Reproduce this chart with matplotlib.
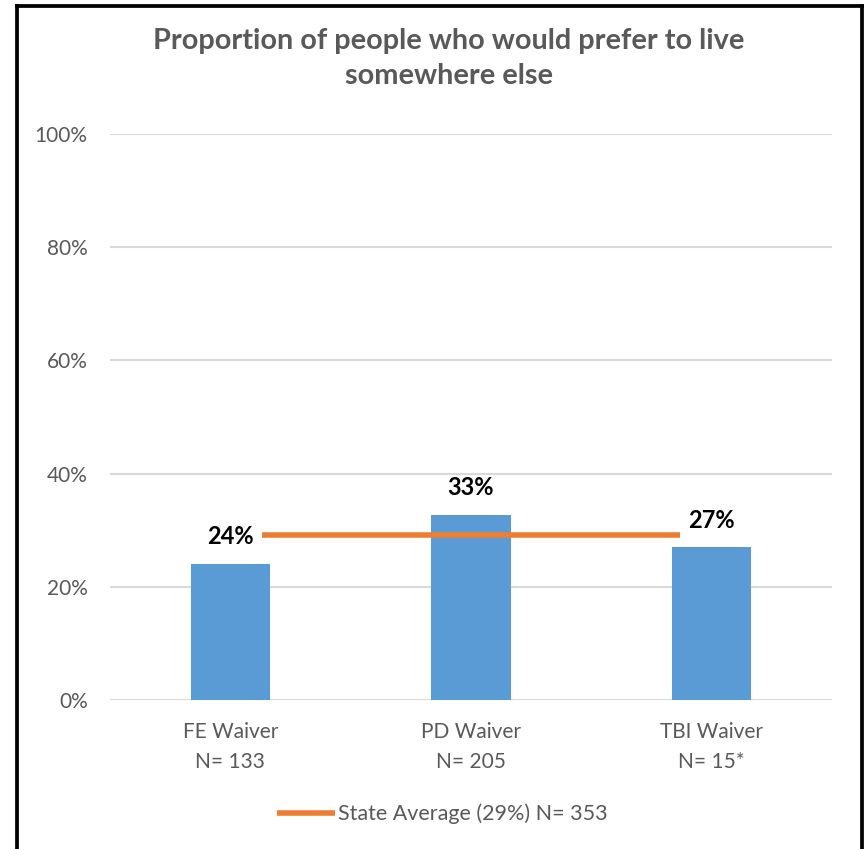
import matplotlib.pyplot as plt
from matplotlib.lines import Line2D

categories = ["FE Waiver\nN= 133", "PD Waiver\nN= 205", "TBI Waiver\nN= 15*"]
values = [24, 33, 27]
bar_heights = [24.1, 32.7, 27.0]
state_average = 29.2
state_label = "State Average (29%) N= 353"
yticks = [0, 20, 40, 60, 80, 100]

plt.rcParams['font.family'] = ['Lato', 'DejaVu Sans']

fig = plt.figure(figsize=(8.65, 8.49), dpi=100)
ax = fig.add_axes([0.127, 0.1755, 0.835, 0.6667])

x = list(range(len(categories)))
ax.bar(x, bar_heights, width=0.33, color='#5b9bd5', zorder=2)

for xi, h, v in zip(x, bar_heights, values):
    ax.text(xi, h + 4.8, f"{v}%", ha='center', va='center', fontsize=17,
            fontweight='bold', color='black', zorder=4,
            bbox=dict(facecolor='white', edgecolor='none', pad=1))

line, = ax.plot([0.13, 1.87], [state_average, state_average], color='#ed7d31',
                linewidth=4, solid_capstyle='butt', zorder=3)

ax.set_xlim(-0.5, 2.5)
ax.set_ylim(0, 100)
ax.set_yticks(yticks)
ax.set_yticklabels([f"{t}%" for t in yticks])
ax.set_xticks(x)
ax.set_xticklabels(categories, linespacing=1.6)
ax.tick_params(axis='both', length=0, colors='#595959', labelsize=15)
ax.tick_params(axis='y', pad=16)
ax.tick_params(axis='x', pad=16)
for s in ax.spines.values():
    s.set_visible(False)
ax.grid(axis='y', color='#d9d9d9', linewidth=1.5, zorder=0)
ax.axhline(0, color='#d0d0d0', linewidth=1.8, zorder=1)

fig.text(0.519, 0.931, "Proportion of people who would prefer to live\nsomewhere else",
         ha='center', va='center', fontsize=20.8, fontweight='bold', color='#595959',
         linespacing=1.42)

fig.legend([line], [state_label], loc='center', bbox_to_anchor=(0.511, 0.041),
           frameon=False, fontsize=15.5, labelcolor='#595959', handlelength=2.7,
           handletextpad=0.14)

# black frame around the chart
fx0, fx1 = 16.5 / 865, 862 / 865
fy1 = 1 - 5.5 / 849
for xs, ys in [([fx0, fx0], [-0.01, fy1]), ([fx0, fx1], [fy1, fy1]), ([fx1, fx1], [fy1, -0.01])]:
    fig.add_artist(Line2D(xs, ys, transform=fig.transFigure, color='black', linewidth=2.7,
                          solid_capstyle='projecting'))

fig.savefig("out.png", dpi=100)
